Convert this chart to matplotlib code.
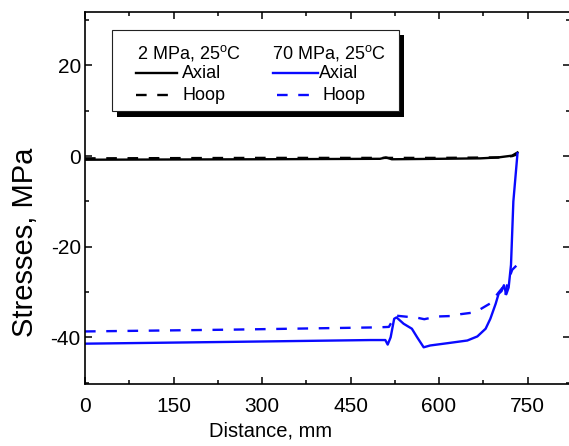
import matplotlib
matplotlib.use('Agg')
import matplotlib.pyplot as plt
from matplotlib.lines import Line2D
from matplotlib.patches import Rectangle
from matplotlib.ticker import MultipleLocator

plt.rcParams['font.family'] = ['Liberation Sans', 'DejaVu Sans']
plt.rcParams['mathtext.fontset'] = 'custom'
plt.rcParams['mathtext.rm'] = 'Liberation Sans'
plt.rcParams['axes.unicode_minus'] = False

# 2 MPa, 25C
x_low_axial = [0, 300, 500, 510, 520, 600, 670, 700, 724, 733]
y_low_axial = [-0.8, -0.7, -0.6, -0.3, -0.7, -0.6, -0.5, -0.3, 0.1, 0.8]
x_low_hoop = [0, 300, 500, 600, 700, 724, 733]
y_low_hoop = [-0.5, -0.4, -0.4, -0.4, -0.3, 0.0, 0.4]

# 70 MPa, 25C
x_high_axial = [0, 250, 484, 509, 513, 518, 524, 528, 540, 554, 563, 574, 585,
                614, 648, 665, 679, 687, 696, 701, 706, 710, 714, 718, 722,
                726, 733]
y_high_axial = [-41.4, -41.0, -40.6, -40.6, -41.6, -40.0, -35.9, -35.6, -37.0,
                -38.1, -40.0, -42.2, -41.8, -41.3, -40.7, -39.8, -38.1, -35.9,
                -32.6, -30.4, -29.8, -28.5, -30.5, -29.0, -24.0, -10.0, 0.6]
x_high_hoop = [0, 250, 497, 515, 526, 564, 575, 597, 620, 636, 654, 670, 687,
               701, 708, 712, 716, 724, 731]
y_high_hoop = [-38.7, -38.3, -37.8, -37.7, -35.2, -35.7, -36.0, -35.4, -35.3,
               -34.9, -34.6, -33.8, -32.5, -30.1, -29.0, -31.0, -28.0, -25.1,
               -24.2]

W, H = 569, 446
fig = plt.figure(figsize=(W / 100, H / 100), dpi=100)
ax = fig.add_axes([85 / W, 1 - 384 / H, (570 - 85) / W, (384 - 12) / H])

blue = '#0a0aff'
lw = 1.7
ax.plot(x_low_axial, y_low_axial, color='black', lw=lw)
ax.plot(x_low_hoop, y_low_hoop, color='black', lw=lw, dashes=(4.5, 4.5))
ax.plot(x_high_axial, y_high_axial, color=blue, lw=lw)
ax.plot(x_high_hoop, y_high_hoop, color=blue, lw=lw, dashes=(4.5, 4.5))

ax.set_xlim(0, 822)
ax.set_ylim(-50.3, 31.8)
ax.xaxis.set_major_locator(MultipleLocator(150))
ax.xaxis.set_minor_locator(MultipleLocator(75))
ax.yaxis.set_major_locator(MultipleLocator(20))
ax.yaxis.set_minor_locator(MultipleLocator(10))
ax.tick_params(which='both', direction='in', top=True, right=True, width=1.1)
ax.tick_params(which='major', length=5, labelsize=15)
ax.tick_params(axis='x', which='major', pad=9)
ax.tick_params(axis='y', which='major', pad=3)
ax.tick_params(which='minor', length=3)
for sp in ax.spines.values():
    sp.set_linewidth(1.2)

ax.set_xlabel('Distance, mm', fontsize=14.5)
ax.xaxis.set_label_coords(0.382, -0.102)
ax.set_ylabel('Stresses, MPa', fontsize=21)
ax.yaxis.set_label_coords(-0.095, 0.38)

# legend box drawn by hand (two column headers)
def fx(px):
    return px / W

def fy(py):
    return 1 - py / H

fig.patches.append(Rectangle((fx(117), fy(117)), fx(404) - fx(117), fy(35) - fy(117),
                             transform=fig.transFigure, facecolor='black',
                             edgecolor='none', zorder=5))
fig.patches.append(Rectangle((fx(112), fy(111)), fx(399) - fx(112), fy(30) - fy(111),
                             transform=fig.transFigure, facecolor='white',
                             edgecolor='#222222', lw=0.8, zorder=6))
leg_fs = 13
fig.text(fx(137), fy(53), r'2 MPa, 25$^\mathrm{o}$C', fontsize=leg_fs,
         va='center', ha='left', zorder=7)
fig.text(fx(272), fy(53), r'70 MPa, 25$^\mathrm{o}$C', fontsize=leg_fs,
         va='center', ha='left', zorder=7)
fig.lines.append(Line2D([fx(136), fx(177)], [fy(73), fy(73)], color='black',
                        lw=lw, transform=fig.transFigure, zorder=7))
fig.lines.append(Line2D([fx(136), fx(170)], [fy(95), fy(95)], color='black',
                        lw=lw, dashes=(4.5, 4.5), transform=fig.transFigure, zorder=7))
fig.lines.append(Line2D([fx(273), fx(318)], [fy(73), fy(73)], color=blue,
                        lw=lw, transform=fig.transFigure, zorder=7))
fig.lines.append(Line2D([fx(277), fx(310)], [fy(95), fy(95)], color=blue,
                        lw=lw, dashes=(4.5, 4.5), transform=fig.transFigure, zorder=7))
fig.text(fx(182), fy(73), 'Axial', fontsize=leg_fs, va='center', ha='left', zorder=7)
fig.text(fx(183), fy(95), 'Hoop', fontsize=leg_fs, va='center', ha='left', zorder=7)
fig.text(fx(319), fy(73), 'Axial', fontsize=leg_fs, va='center', ha='left', zorder=7)
fig.text(fx(323), fy(95), 'Hoop', fontsize=leg_fs, va='center', ha='left', zorder=7)

fig.savefig('out.png', dpi=100)
